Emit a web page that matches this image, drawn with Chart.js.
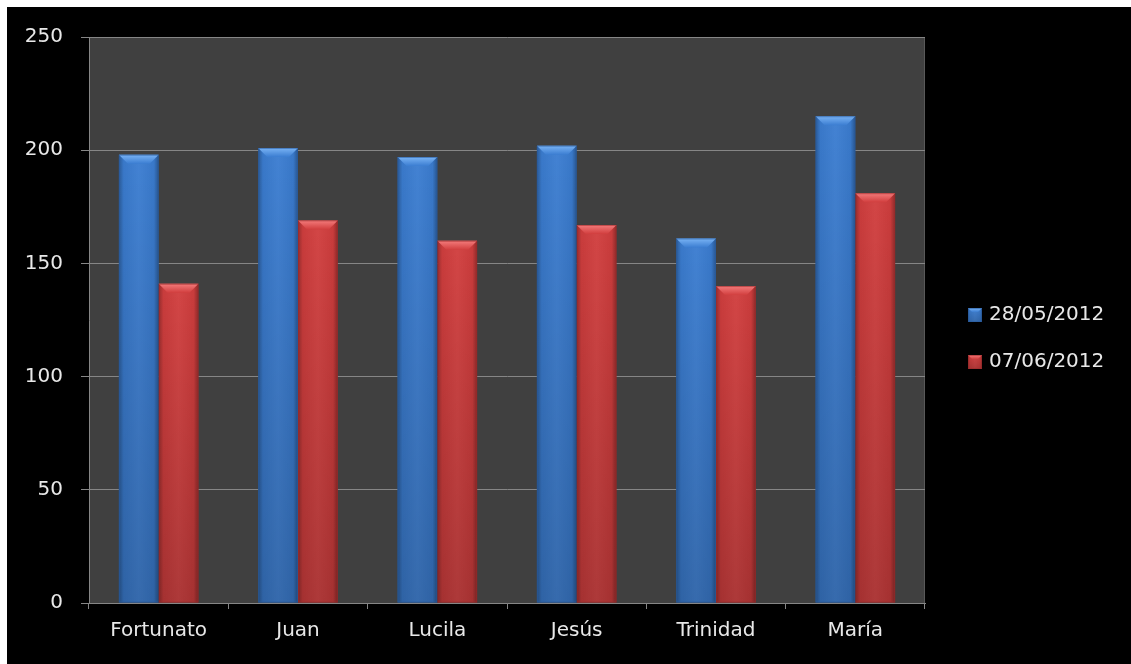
<!DOCTYPE html>
<html>
<head>
<meta charset="utf-8">
<title>Comparativa</title>
<script src="https://cdn.jsdelivr.net/npm/chart.js@4.4.1/dist/chart.umd.min.js"></script>
<style>
  html, body { margin: 0; padding: 0; background: #ffffff; }
  #frame {
    position: absolute;
    left: 7px;
    top: 7px;
    width: 1124px;
    height: 657px;
    background: #000000;
  }
  #chart { display: block; }
</style>
</head>
<body>
<div id="frame">
  <canvas id="chart" width="1124" height="657"></canvas>
</div>
<script>
// Names and the two measurement dates
const names = ['Fortunato', 'Juan', 'Lucila', 'Jesús', 'Trinidad', 'María'];
const dateLabels = ['28/05/2012', '07/06/2012'];
const firstValues = [198, 201, 197, 202, 161, 215];
const secondValues = [141, 169, 160, 167, 140, 181];
const yTicks = [0, 50, 100, 150, 200, 250];

const FONT = { family: '"DejaVu Sans", sans-serif', size: 20 };
const TEXT_COLOR = '#e8e8e8';
const GRID_COLOR = '#868686';

// base / highlight / shadow per series
const palette = [
  { main: '#3b7dd1', light: '#7ab4f5', dark: '#2a5c9e' },
  { main: '#d13e3e', light: '#f47c7c', dark: '#9c2b2b' }
];

// Grey plot background behind the bars
const plotBackground = {
  id: 'plotBackground',
  beforeDraw(chart) {
    const { ctx, chartArea: a } = chart;
    ctx.save();
    ctx.fillStyle = '#404040';
    ctx.fillRect(a.left, a.top, a.right - a.left, a.bottom - a.top);
    ctx.strokeStyle = '#595959';
    ctx.lineWidth = 1;
    ctx.beginPath();
    ctx.moveTo(a.right - 0.5, a.top);
    ctx.lineTo(a.right - 0.5, a.bottom);
    ctx.stroke();
    ctx.restore();
  }
};

// Shading and bevelled top on each bar, like the old office 3D style
function shadeBox(ctx, left, top, w, h, colors, bevel) {
  const side = ctx.createLinearGradient(left, 0, left + w, 0);
  side.addColorStop(0, 'rgba(0,0,0,0.28)');
  side.addColorStop(0.12, 'rgba(0,0,0,0.04)');
  side.addColorStop(0.5, 'rgba(255,255,255,0.04)');
  side.addColorStop(0.88, 'rgba(0,0,0,0.04)');
  side.addColorStop(1, 'rgba(0,0,0,0.32)');
  ctx.fillStyle = side;
  ctx.fillRect(left, top, w, h);

  const down = ctx.createLinearGradient(0, top, 0, top + h);
  down.addColorStop(0, 'rgba(0,0,0,0)');
  down.addColorStop(1, 'rgba(0,0,0,0.18)');
  ctx.fillStyle = down;
  ctx.fillRect(left, top, w, h);

  const b = Math.min(bevel, h / 2, w / 2);
  const topGrad = ctx.createLinearGradient(0, top, 0, top + b);
  topGrad.addColorStop(0, colors.light);
  topGrad.addColorStop(1, colors.main);
  ctx.fillStyle = topGrad;
  ctx.beginPath();
  ctx.moveTo(left, top);
  ctx.lineTo(left + w, top);
  ctx.lineTo(left + w - b, top + b);
  ctx.lineTo(left + b, top + b);
  ctx.closePath();
  ctx.fill();

  ctx.strokeStyle = colors.dark;
  ctx.globalAlpha = 0.6;
  ctx.lineWidth = 1;
  ctx.strokeRect(left + 0.5, top + 0.5, w - 1, h - 1);
  ctx.globalAlpha = 1;
}

const barShading = {
  id: 'barShading',
  afterDatasetsDraw(chart) {
    const { ctx, chartArea: a } = chart;
    ctx.save();
    ctx.beginPath();
    ctx.rect(a.left, a.top - 2, a.right - a.left, a.bottom - a.top + 2);
    ctx.clip();
    chart.data.datasets.forEach((ds, i) => {
      const meta = chart.getDatasetMeta(i);
      meta.data.forEach(el => {
        const { x, y, base, width } = el.getProps(['x', 'y', 'base', 'width'], true);
        shadeBox(ctx, x - width / 2, y, width, base - y, palette[i], 9);
      });
    });
    ctx.restore();
  }
};

// Legend on the right with small bevelled swatches
const sideLegend = {
  id: 'sideLegend',
  afterDraw(chart) {
    const { ctx, chartArea: a } = chart;
    const x = a.right + 43;
    const rows = [308, 355];
    ctx.save();
    ctx.font = `${FONT.size}px ${FONT.family}`;
    ctx.textBaseline = 'middle';
    ctx.textAlign = 'left';
    chart.data.datasets.forEach((ds, i) => {
      const cy = rows[i];
      ctx.fillStyle = palette[i].main;
      ctx.fillRect(x, cy - 7, 14, 14);
      shadeBox(ctx, x, cy - 7, 14, 14, palette[i], 4);
      ctx.fillStyle = TEXT_COLOR;
      ctx.fillText(ds.label, x + 21, cy);
    });
    ctx.restore();
  }
};

const ctx = document.getElementById('chart').getContext('2d');

new Chart(ctx, {
  type: 'bar',
  data: {
    labels: names,
    datasets: [
      {
        label: dateLabels[0],
        data: firstValues,
        backgroundColor: palette[0].main,
        borderWidth: 0
      },
      {
        label: dateLabels[1],
        data: secondValues,
        backgroundColor: palette[1].main,
        borderWidth: 0
      }
    ]
  },
  options: {
    responsive: false,
    animation: false,
    events: [],
    layout: {
      padding: { top: 30, right: 206, bottom: 0, left: 7 }
    },
    datasets: {
      bar: {
        categoryPercentage: 0.571,
        barPercentage: 1.0
      }
    },
    plugins: {
      legend: { display: false },
      tooltip: { enabled: false }
    },
    scales: {
      x: {
        offset: true,
        grid: {
          offset: true,
          drawOnChartArea: false,
          drawTicks: true,
          tickLength: 6,
          color: GRID_COLOR
        },
        border: { display: true, color: GRID_COLOR, width: 1 },
        ticks: {
          color: TEXT_COLOR,
          font: FONT,
          padding: 10,
          maxRotation: 0
        },
        afterFit(axis) {
          axis.height = 61;
        }
      },
      y: {
        min: 0,
        max: 250,
        afterBuildTicks(axis) {
          axis.ticks = yTicks.map(v => ({ value: v }));
        },
        grid: {
          color: GRID_COLOR,
          lineWidth: 1,
          drawTicks: true,
          tickLength: 8
        },
        border: { display: true, color: GRID_COLOR, width: 1 },
        ticks: {
          color: TEXT_COLOR,
          font: FONT,
          padding: 18
        },
        afterFit(axis) {
          axis.width = 75;
        }
      }
    }
  },
  plugins: [plotBackground, barShading, sideLegend]
});
</script>
</body>
</html>
